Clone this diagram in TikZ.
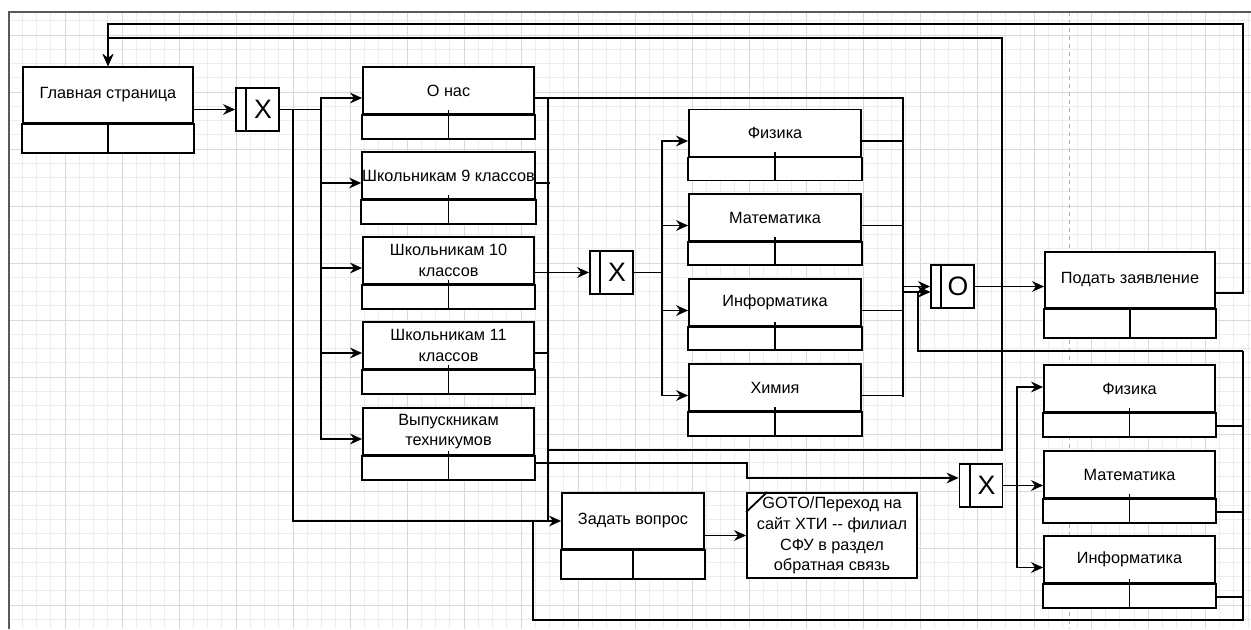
\documentclass[tikz,border=0pt]{standalone}
\usepackage{fontspec}
\setmainfont{Liberation Sans}
\usetikzlibrary{arrows.meta,calc}

\begin{document}
\begin{tikzpicture}[x=0.75pt,y=-0.75pt,
    line/.style={line width=1.35pt,black},
    flow/.style={line,-{Stealth[length=9pt,width=8pt]}},
    act node/.style={draw,line width=1.35pt,fill=white,minimum width=128.25pt,minimum height=35.25pt,
                     inner sep=0pt,align=center,font=\fontsize{12.2pt}{15.5pt}\selectfont},
    big node/.style={act node,minimum height=42pt},
    junc node/.style={draw,line width=1.35pt,fill=white,minimum size=32.25pt,inner sep=0pt,
                      font=\fontsize{20pt}{20pt}\selectfont},
    minor line/.style={black!7,line width=0.4pt},
    major line/.style={black!15,line width=0.5pt}]

  \useasboundingbox[fill=white] (0,0) rectangle (1251,629);
  \foreach \gx in {8,22.25,...,1251} \draw[minor line] (\gx,12) -- (\gx,629);
  \foreach \gy in {20.75,35,...,629} \draw[minor line] (9,\gy) -- (1251,\gy);
  \foreach \gx in {65,122,...,1251} \draw[major line] (\gx,12) -- (\gx,629);
  \foreach \gy in {35,92,...,629} \draw[major line] (9,\gy) -- (1251,\gy);
  \draw[black!30,dashed] (1069,12) -- (1069,629);
  \draw[black!65,line width=0.9pt] (9,629) -- (9,12) -- (1251,12);

  \node[big node,minimum width=127.5pt] (glav) at (108,95) {Главная страница};
  \node[junc node] (j1) at (257.5,109.5) {\hspace{8.25pt}X};
  \node[act node] (onas) at (448.5,90.5) {О нас};
  \node[act node] (sh9) at (448.5,175.5) {Школьникам 9 классов};
  \node[act node] (sh10) at (448.5,260.5) {Школьникам 10\\классов};
  \node[act node] (sh11) at (448.5,345.5) {Школьникам 11\\классов};
  \node[act node] (vyp) at (448.5,431.5) {Выпускникам\\техникумов};
  \node[junc node] (j2) at (611.5,272.5) {\hspace{8.25pt}X};
  \node[act node,minimum width=129pt] (fiz1) at (775,133) {Физика};
  \node[act node,minimum width=129pt] (mat1) at (775,217.5) {Математика};
  \node[act node,minimum width=129pt] (inf1) at (775,302.5) {Информатика};
  \node[act node,minimum width=129pt] (him1) at (775,387.5) {Химия};
  \node[junc node] (jo) at (952.5,286.5) {\hspace{8.25pt}O};
  \node[big node,minimum width=127.5pt] (podat) at (1130,280) {Подать заявление};
  \node[junc node] (j3) at (981,485.5) {\hspace{8.25pt}X};
  \node[act node] (fiz2) at (1129.5,388.5) {Физика};
  \node[act node] (mat2) at (1129.5,474.5) {Математика};
  \node[act node] (inf2) at (1129.5,559.5) {Информатика};
  \node[big node,minimum width=106.5pt] (zadat) at (633,521) {Задать вопрос};
  \node[act node,minimum width=127.5pt,minimum height=63.75pt] (goto) at (832,535.5)
    {GOTO/Переход на\\сайт ХТИ -{}- филиал\\СФУ в раздел\\обратная связь};

  \foreach \n/\h/\t in {glav/29/0,onas/24/5,sh9/24/5,sh10/24/5,sh11/24/5,vyp/24/5,
                        fiz1/23/5,mat1/23/5,inf1/23/5,him1/24/5,fiz2/24/5,mat2/24/5,
                        inf2/24/5,podat/29/0,zadat/29/0}
    \draw[line,fill=white] (\n.south west) rectangle ($(\n.south east)+(0,\h)$)
      ($(\n.south)+(0,-\t)$) -- ($(\n.south)+(0,\h)$);
  \foreach \j in {j1,j2,jo,j3}
    \draw[line] ([xshift=8.25pt]\j.north west) -- ([xshift=8.25pt]\j.south west);
  \draw[line] ($(goto.north west)+(0,20)$) -- ($(goto.north west)+(21,0)$);

  \coordinate (s0) at (293,109.5);
  \coordinate (s1) at (321,109.5);
  \coordinate (s2) at (662,272.5);
  \coordinate (s3) at (1017,485.5);
  \coordinate (b1) at (548,98);
  \coordinate (b2) at (548,521);
  \coordinate (r1) at (903,98);
  \coordinate (r2) at (903,397);
  \coordinate (t1) at (548,450);
  \coordinate (t2) at (1002,450);
  \coordinate (t3) at (1002,38);
  \coordinate (u1) at (1243,24);
  \coordinate (q1) at (918,351);
  \coordinate (q2) at (1243,351);
  \coordinate (q3) at (1243,620);
  \coordinate (q4) at (533,620);
  \coordinate (v1) at (747,463);
  \coordinate (v2) at (747,478);

  \draw[flow] (glav.east |- j1.west) -- (j1.west);
  \draw[line] (j1.east) -- (s1);
  \foreach \n in {onas,sh9,sh10,sh11,vyp}
    \draw[flow] (s1) |- ($(\n.west)+(0,7.5)$);
  \draw[flow] (s0) |- (zadat.west);
  \draw[flow] (zadat.east |- goto.west) -- (goto.west);

  \draw[line] ($(onas.east)+(0,7.5)$) -- (r1) -- (r2);
  \draw[line] (b1) -- (b2);
  \foreach \n in {sh9,sh11}
    \draw[line] ($(\n.east)+(0,7.5)$) -- ++(14,0);
  \draw[flow] (sh10.east |- j2.west) -- (j2.west);
  \draw[flow] (t1) -- (t2) -- (t3) -| (glav.north);
  \draw[flow] ($(podat.east)+(0,13)$) -| (u1) -| (glav.north);

  \draw[line] (j2.east) -- (s2);
  \foreach \n in {fiz1,mat1,inf1,him1} {
    \draw[flow] (s2) |- ($(\n.west)+(0,8)$);
    \draw[line] ($(\n.east)+(0,8)$) -- ++(42,0);
  }
  \draw[flow] (r1 |- jo.west) -- (jo.west);
  \draw[flow] ($(r1 |- jo.west)+(0,5.5)$) -- ($(jo.west)+(0,5.5)$);
  \draw[flow] (q2) -- (q1) |- ($(jo.west)+(0,5.5)$);
  \draw[flow] (jo.east) -- (jo.east -| podat.west);

  \draw[flow] ($(vyp.east)+(0,31.5)$) -- (v1) -- (v2) -- (v2 -| j3.west);
  \draw[line] (j3.east) -- (s3);
  \foreach \n/\d in {fiz2/-1.5,mat2/11,inf2/8}
    \draw[flow] (s3) |- ($(\n.west)+(0,\d)$);
  \foreach \n in {fiz2,mat2,inf2}
    \draw[line] ($(\n.east)+(0,37.5)$) -- ++(28,0);
  \draw[line] (q2) -- (q3) -- (q4) -- (q4 |- zadat.west);
\end{tikzpicture}
\end{document}
